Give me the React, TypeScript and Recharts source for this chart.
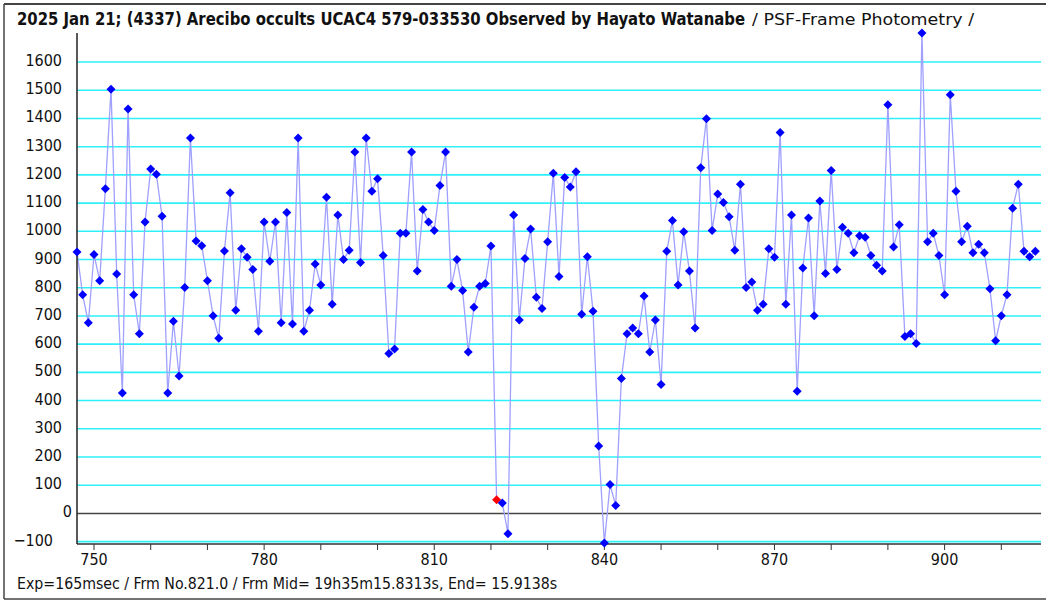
import { LineChart, Line, XAxis, YAxis, CartesianGrid, ReferenceLine } from 'recharts';

// light curve, one value per frame starting at firstFrame
const firstFrame = 747;
const flux = [
  927, 775, 676, 918, 825, 1151, 1504, 849, 427, 1434,
  775, 637, 1033, 1221, 1202, 1053, 427, 681, 487, 801,
  1331, 966, 949, 825, 701, 621, 930, 1137, 720, 938,
  908, 865, 646, 1033, 894, 1033, 676, 1067, 671, 1331,
  646, 720, 884, 810, 1121, 741, 1058, 900, 933, 1281,
  889, 1331, 1142, 1186, 914, 567, 583, 993, 993, 1281,
  859, 1077, 1033, 1003, 1162, 1281, 805, 900, 790, 572,
  731, 805, 815, 948, 48, 37, -72, 1058, 686, 904,
  1008, 766, 726, 963, 1206, 840, 1191, 1157, 1211, 706,
  910, 717, 239, -105, 102, 28, 478, 637, 657, 637,
  771, 572, 686, 457, 929, 1038, 810, 998, 859, 657,
  1225, 1399, 1003, 1132, 1102, 1052, 933, 1167, 801, 820,
  720, 741, 938, 908, 1350, 741, 1058, 433, 870, 1047,
  701, 1107, 850, 1216, 865, 1014, 993, 924, 984, 979,
  914, 880, 859, 1449, 944, 1023, 627, 637, 602, 1703,
  963, 993, 914, 775, 1484, 1142, 963, 1018, 924, 954,
  924, 796, 612, 701, 775, 1082, 1167, 929, 910, 929,
];
const markedFrame = 821;

const xTicks = [750, 760, 770, 780, 790, 800, 810, 820, 830, 840, 850, 860, 870, 880, 890, 900, 910];
const xLabels = [750, 780, 810, 840, 870, 900];
const yTicks = [-100, 0, 100, 200, 300, 400, 500, 600, 700, 800, 900, 1000, 1100, 1200, 1300, 1400, 1500, 1600];
const gridLevels = yTicks.filter((v) => v !== 0); // zero line is drawn dark instead

const titleMain = '2025 Jan 21; (4337) Arecibo occults UCAC4 579-033530 Observed by Hayato Watanabe';
const titleSub = '/ PSF-Frame Photometry /';
const footer = 'Exp=165msec / Frm No.821.0 / Frm Mid= 19h35m15.8313s,  End= 15.9138s';

const data = flux.map((v, i) => ({ frame: firstFrame + i, flux: v }));

const font = '"Liberation Sans Narrow", "DejaVu Sans Condensed", sans-serif';

function YTick({ y, payload }: any) {
  const v = payload.value;
  const right = v === 0 ? 72 : v < 0 ? 53 : 62;
  return (
    <text x={right} y={y + 4} textAnchor="end" fontFamily={font} fontSize={16} fill="#111">
      {v < 0 ? '\u2212' + Math.abs(v) : v}
    </text>
  );
}

function XTick({ x, y, payload }: any) {
  if (!xLabels.includes(payload.value)) return <g />;
  return (
    <text x={x} y={y + 13} textAnchor="middle" fontFamily={font} fontSize={16} fill="#111">
      {payload.value}
    </text>
  );
}

function Diamond(props: any) {
  const { cx, cy, payload, index } = props;
  if (cx == null || cy == null) return <g key={index} />;
  const r = 4.5;
  const fill = payload.frame === markedFrame ? '#ff0000' : '#0000ff';
  return (
    <polygon
      key={index}
      points={`${cx},${cy - r} ${cx + r},${cy} ${cx},${cy + r} ${cx - r},${cy}`}
      fill={fill}
    />
  );
}

export default function App() {
  return (
    <div style={{ position: 'absolute', left: 0, top: 0, width: 1046, height: 600, background: '#fff' }}>
      <LineChart width={1046} height={600} data={data} margin={{ top: 33, right: 5, bottom: 0, left: 0 }}>
        <CartesianGrid vertical={false} horizontalValues={gridLevels} stroke="#2ef0fa" strokeWidth={1.6} />
        <XAxis
          dataKey="frame"
          type="number"
          domain={[747, 917]}
          ticks={xTicks}
          height={56}
          tick={<XTick />}
          tickSize={6}
          stroke="#333"
          axisLine={{ stroke: '#333', strokeWidth: 1.5 }}
          tickLine={{ stroke: '#333' }}
        />
        <YAxis
          type="number"
          domain={[-108.5, 1703]}
          ticks={yTicks}
          width={77}
          tick={<YTick />}
          tickLine={false}
          axisLine={{ stroke: '#222', strokeWidth: 1.5 }}
        />
        <ReferenceLine y={0} stroke="#444" strokeWidth={1.5} />
        <Line
          type="linear"
          dataKey="flux"
          stroke="#a0a0ff"
          strokeWidth={1.3}
          dot={Diamond}
          activeDot={false}
          isAnimationActive={false}
        />
      </LineChart>
      <svg width={1046} height={600} style={{ position: 'absolute', left: 0, top: 0, pointerEvents: 'none' }}>
        <line x1={4} y1={4} x2={1046} y2={4} stroke="#444" strokeWidth={2} />
        <line x1={4} y1={4} x2={4} y2={599} stroke="#444" strokeWidth={1.5} />
        <line x1={4} y1={599} x2={1046} y2={599} stroke="#444" strokeWidth={1.5} />
        <text x={17} y={25} fontFamily={font} fontWeight="bold" fontSize={17} fill="#111"
          textLength={728} lengthAdjust="spacingAndGlyphs">
          {titleMain}
        </text>
        <text x={752} y={25} fontFamily={font} fontSize={16} fill="#111"
          textLength={222} lengthAdjust="spacingAndGlyphs">
          {titleSub}
        </text>
        <text x={17} y={589} fontFamily={font} fontSize={16} fill="#111"
          textLength={540} lengthAdjust="spacingAndGlyphs">
          {footer}
        </text>
      </svg>
    </div>
  );
}
